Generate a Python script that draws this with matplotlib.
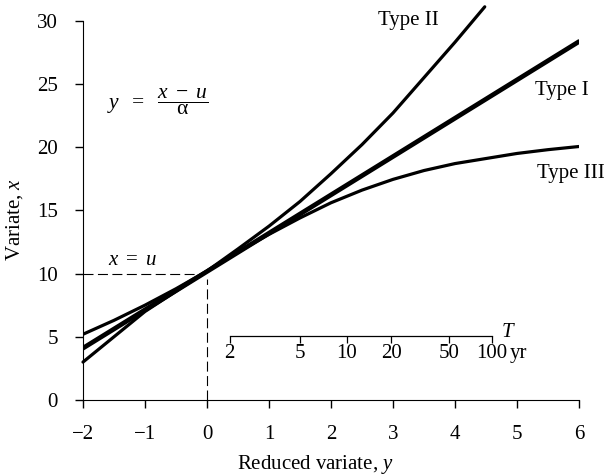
import numpy as np
import matplotlib
matplotlib.use("Agg")
import matplotlib.pyplot as plt

plt.rcParams['font.family'] = ['Liberation Serif', 'DejaVu Serif']
plt.rcParams['mathtext.fontset'] = 'custom'
plt.rcParams['mathtext.rm'] = 'Liberation Serif'
plt.rcParams['mathtext.it'] = 'Liberation Serif:italic'
plt.rcParams['mathtext.bf'] = 'Liberation Serif:bold'

# reduced variate y (x axis) vs variate x (y axis)
type1_y = [-2.0, 6.0]
type1_x = [4.1, 28.35]

type2_y = [-2.0, -1.5, -1.0, -0.5, 0.0, 0.5, 1.0, 1.5, 2.0, 2.5, 3.0, 3.5, 4.0, 4.48]
type2_x = [3.0, 5.0, 7.0, 8.6, 10.2, 11.95, 13.75, 15.7, 17.9, 20.2, 22.7, 25.5, 28.3, 31.1]

type3_y = [-2.0, -1.5, -1.0, -0.5, 0.0, 0.5, 1.0, 1.5, 2.0, 2.5, 3.0, 3.5, 4.0, 4.5, 5.0, 5.5, 6.0]
type3_x = [5.2, 6.3, 7.5, 8.8, 10.2, 11.7, 13.1, 14.4, 15.6, 16.6, 17.45, 18.15, 18.7, 19.1, 19.5, 19.8, 20.05]

u = 10.0
T_years = [2, 5, 10, 20, 50, 100]
T_labels = ['2', '5', '10', '20', '50', '100']

fig = plt.figure(figsize=(6.04, 4.75), dpi=100)
ax = fig.add_axes([0.1374, 0.1579, 0.9586 - 0.1374, 0.9564 - 0.1579])

ax.plot(type1_y, type1_x, color='black', lw=3.4, solid_capstyle='round')
ax.plot(type2_y, type2_x, color='black', lw=2.3, clip_on=False, solid_capstyle='round')
ax.plot(type3_y, type3_x, color='black', lw=2.3, solid_capstyle='round')

# x = u guide lines
ax.plot([-2, -0.1], [u, u], color='black', lw=0.8, ls=(0, (9, 4)))
ax.plot([0, 0], [0, u - 0.4], color='black', lw=0.8, ls=(0, (9, 4)))

# return period scale
T_pos = -np.log(-np.log(1 - 1 / np.array(T_years, dtype=float)))
ty = 5.1
ax.plot([T_pos[0], T_pos[-1]], [ty, ty], color='black', lw=0.9)
ax.vlines(T_pos, ty - 0.6, ty, color='black', lw=0.9)
for p, lab in zip(T_pos, T_labels):
    ax.text(p, 3.7, lab, ha='center', va='center', fontsize=15)
ax.text(4.89, 3.7, 'yr', ha='left', va='center', fontsize=15)
ax.text(4.74, 5.35, r'$T$', ha='left', va='center', fontsize=15)

ax.text(2.76, 30.0, 'Type II', ha='left', va='center', fontsize=15)
ax.text(5.29, 24.5, 'Type I', ha='left', va='center', fontsize=15)
ax.text(5.32, 17.95, 'Type III', ha='left', va='center', fontsize=15)
ax.text(-1.2, 11.0, r'$x\ =\ u$', ha='center', va='center', fontsize=15)
ax.text(-1.62, 23.6, r'$y\ \ =\ \ \dfrac{x\ -\ u}{\mathrm{\alpha}}$', ha='left', va='center', fontsize=15.5)

ax.set_xlim(-2, 6)
ax.set_ylim(0, 30)
ax.set_xticks(range(-2, 7))
ax.set_yticks(range(0, 31, 5))
ax.spines['top'].set_visible(False)
ax.spines['right'].set_visible(False)
ax.tick_params(axis='both', direction='out', length=6, width=1, labelsize=15)
ax.tick_params(axis='x', pad=12)
ax.tick_params(axis='y', pad=12)

ax.set_xlabel(r'Reduced variate, $y$', fontsize=15)
ax.set_ylabel(r'Variate, $x$', fontsize=15)
ax.xaxis.set_label_coords(0.468, -0.14)
ax.yaxis.set_label_coords(-0.117, 0.475)

plt.savefig('out.png', dpi=100)
